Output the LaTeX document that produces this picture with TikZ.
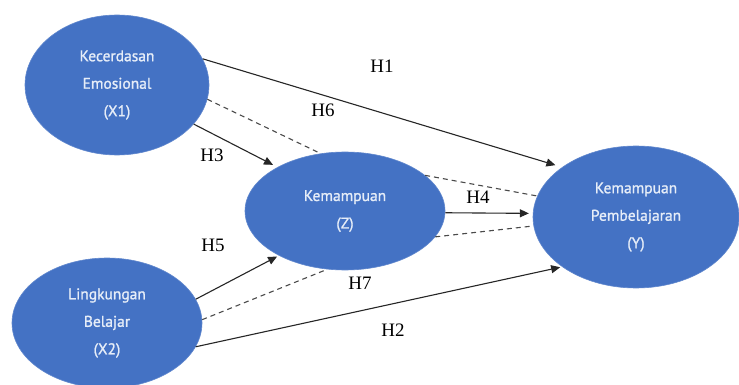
\documentclass[tikz,border=0pt]{standalone}
\usepackage{fontspec}
\setmainfont{Liberation Serif}
\newfontfamily\ellfont[FakeBold=1.2]{PT Sans}
\usetikzlibrary{shapes.geometric,arrows.meta}
\definecolor{ellblue}{HTML}{4472C4}
\definecolor{elltext}{HTML}{E6EDF8}
\definecolor{linegray}{HTML}{262626}
\definecolor{dashgray}{HTML}{4A4A4A}
\begin{document}
\begin{tikzpicture}[x=1pt,y=-1pt,
  var/.style={ellipse, fill=ellblue, draw=ellblue!85!white, line width=0.6pt, inner sep=0pt,
    text=elltext, align=center, font=\ellfont\fontsize{15.5}{27.5}\selectfont},
  path/.style={draw=linegray, line width=1.1pt, -{Triangle[length=9pt,width=8pt]}, shorten >=2pt},
  med/.style={draw=dashgray, line width=1.1pt, dash pattern=on 5pt off 4pt},
  hyp/.style={font=\fontsize{19}{21}\selectfont, text=black, inner sep=0pt}
]
\useasboundingbox (0,0) rectangle (739,385);
\fill[white] (0,0) rectangle (739,385);

\coordinate (cX1) at (117,85);
\coordinate (cZ) at (345,211);
\coordinate (cY) at (636,217);
\coordinate (cX2) at (107,323);

\node[var, minimum width=184pt, minimum height=140pt] (X1) at (cX1) {Kecerdasan\\Emosional\\(X1)};
\node[var, minimum width=200pt, minimum height=118pt] (Z) at (cZ) {Kemampuan\\(Z)};
\node[var, minimum width=206pt, minimum height=142pt] (Y) at (cY) {Kemampuan\\Pembelajaran\\(Y)};
\node[var, minimum width=190pt, minimum height=130pt] (X2) at (cX2) {Lingkungan\\Belajar\\(X2)};

% direct effects
\draw[path, shorten >=7pt] (X1.17) -- (Y.146);
\draw[path, shorten >=5pt] (X1.-27) -- (Z.147);
\draw[path] (X2.15) -- (Z.214);
\draw[path, shorten >=4pt] (Z.-1) -- (Y.178);
\draw[path] (X2.-15) -- (Y.214);

% mediated (dashed) paths
\draw[med] (X1.-9) -- (Z.113);
\draw[med] (Z.24) -- (Y.168);
\draw[med] (X2.2) -- (Z.253);
\draw[med] (Z.-16) -- (Y.185);

% hypothesis labels
\node[hyp] (h1) at (382,66) {H1};
\node[hyp] (h6) at (323,110) {H6};
\node[hyp] (h3) at (212,155) {H3};
\node[hyp] (h4) at (478,197) {H4};
\node[hyp] (h5) at (213,245) {H5};
\node[hyp] (h7) at (360,283) {H7};
\node[hyp] (h2) at (393,330) {H2};
\end{tikzpicture}
\end{document}
